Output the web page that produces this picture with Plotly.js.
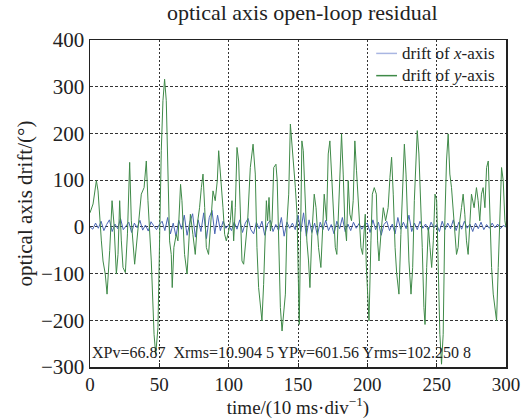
<!DOCTYPE html>
<html>
<head>
<meta charset="utf-8">
<script src="https://cdn.plot.ly/plotly-3.0.1.min.js"></script>
<style>html,body{margin:0;padding:0;background:#fff;}#chart{width:523px;height:419px;}</style>
</head>
<body>
<div id="chart"></div>
<script>
// y-axis drift (green): sample time and value
const tY = [0,1.2,2.2,4.6,5.8,8.2,9.4,11,12.3,14.2,15.9,17.3,19,20.2,21.4,22.6,23.8,25.5,27,28.6,29.8,32.2,33.9,37,39,40.6,41.8,43,44.2,46.2,47.4,49,
50.2,51.4,52.6,53.8,55,56.2,57.4,58.6,59.3,60.5,62.2,63.4,65.3,66.3,67,68.2,70,71.2,72.4,74.2,75.9,77.4,79,80.3,81.5,82.7,83.9,85.5,87,88.7,90.3,91.8,92.8,94.2,95.9,97.1,98.3,
100,101.2,102.4,103.6,104.8,106,107.2,108.4,109.6,110.8,112,113.7,115.6,117.6,119.2,120.4,121.6,122.8,124,125.2,126,127.2,128.1,129.1,130.1,131.3,132.5,134.1,135,136,137.3,138.5,139.7,140.9,142.1,143.3,144.5,145.7,146.9,148.1,149.3,
150,150.9,151.8,152.8,153.8,155.2,156.4,157.6,158.6,160,161.7,163,164.8,166.5,167.7,168.9,170.6,171.8,173,174.2,175.4,176.9,178,179.3,180.5,181.4,182.6,183.8,185,186.2,187.4,188.6,189.8,191,192.2,194.2,195.4,196.6,198.5,199.2,
200.1,201.2,202.6,203.6,205,206.5,207.4,208.4,209.8,211.5,213.2,215,216.3,217.5,218.7,220,221.2,222.8,224.2,225.5,226.7,227.9,229.1,230,231.5,232.7,233.9,234.9,236,237.2,238.4,239.6,240.8,241.6,242.8,244,245.2,246.4,247.6,248.8,
250,251.1,252.3,253.5,254.7,255.9,257.1,258.3,259.5,260.7,261.9,263.1,264.3,265.5,266.7,267.9,269.1,270.3,271.5,272.7,273.9,275.1,277,278.7,279.9,281.1,282.3,283.5,284.8,286,287.2,288.4,289.6,290.8,292,293.2,294.4,295.6,296.8,298,299.2,300];
const vY = [30,40,49,99,77,-30,-73,-101,-144,-51,56,6,-101,-59,56,-30,-87,-98,-15,138,13,-80,-30,70,84,141,56,-15,-73,-230,-273,-216,
-16,163,270,316,270,91,-30,-59,-130,-44,-16,-30,91,56,-1,-59,-101,-30,27,-16,-59,6,41,84,113,41,-44,-59,13,77,56,99,163,113,41,-16,-30,
-9,13,56,-30,41,170,141,13,-73,-80,-44,13,127,177,113,-44,-130,-173,-201,-123,-44,56,13,63,-9,13,127,134,99,-51,-173,-223,-187,-144,13,70,220,177,127,84,27,
-60,-209,-30,184,163,56,-30,-73,-130,-16,70,41,-44,-87,13,70,13,156,184,113,20,-44,-59,56,163,199,113,6,-30,99,27,13,56,184,120,27,-44,-59,27,-80,
-130,-201,-30,70,84,70,-30,-73,-16,41,13,41,106,149,70,-44,-101,-144,-16,70,177,113,13,-73,-144,-87,56,127,206,156,70,-44,-173,-209,-87,-1,-44,-87,-30,70,
56,-87,-230,-294,-230,13,141,199,113,84,41,-16,-59,-44,13,41,70,27,-30,-59,13,70,41,84,56,13,70,84,41,127,141,13,-87,-144,-173,-201,-87,41,127,99,13,-1];

// x-axis drift (blue): one reading every 2 time units from 0 to 300
const tX = Array.from({length:151},(_,i)=>i*2);
const vX = [0,-5,8,-3,12,-8,5,15,-10,6,-4,18,-6,3,10,-12,8,-2,14,-7,4,-9,11,2,-6,
5,12,-8,20,-15,8,-20,14,-5,25,-18,10,28,-22,15,-10,30,-25,20,35,-15,25,-8,12,-3,
4,-8,10,-5,15,-12,8,18,-6,-15,10,-4,12,-18,6,14,-10,5,-8,20,-20,10,-3,8,-6,
25,-10,30,-20,15,-12,8,-18,10,-6,14,-8,5,-15,12,-4,20,-10,6,-8,10,-3,7,-5,4,
8,-12,15,-6,10,-18,5,12,-8,6,-15,20,-5,10,-4,25,-10,8,-6,12,-3,6,-8,10,-2,
5,-10,12,-6,8,-4,15,-8,10,-5,12,-3,6,-10,8,-4,10,-6,5,-3,8,-2,6,-4,3,0];

const xTicks = [0,50,100,150,200,250,300];
const yTicks = [-300,-200,-100,0,100,200,300,400];
const seriesNames = ['drift of <i>x</i>-axis', 'drift of <i>y</i>-axis'];
const titleText = 'optical axis open-loop residual';
const xTitle = 'time/(10 ms·div<sup>−1</sup>)';
const yTitle = 'optical axis drift/(°)';
const statsText = 'XPv=66.87  Xrms=10.904 5 YPv=601.56 Yrms=102.250 8';

const FONT = '"Liberation Serif", "Times New Roman", serif';
const colX = '#4a66b4', colXLegend = '#a9b6e2', colY = '#3f8a48';

const traces = [
  {x:tX, y:vX, type:'scatter', mode:'lines', name:seriesNames[0], line:{color:colX, width:1}},
  {x:tY, y:vY, type:'scatter', mode:'lines', name:seriesNames[1], line:{color:colY, width:1}}
];

// compact legend: key lines + one two-line label block in the top-right corner of the plot area
const legendRows = [0.959, 0.891];
const legendShapes = legendRows.map((yy,i)=>({type:'line', xref:'paper', yref:'paper', x0:0.688, x1:0.738, y0:yy, y1:yy,
  line:{color: i===0 ? colXLegend : colY, width:1.5}}));
const legendLabel = {text:seriesNames.join('<br>'), xref:'paper', yref:'paper', x:0.746, y:(legendRows[0]+legendRows[1])/2,
  xanchor:'left', yanchor:'middle', align:'left', showarrow:false, font:{family:FONT, size:17, color:'#222'}};

const layout = {
  width:523, height:419,
  margin:{l:90, r:17, t:40, b:52},
  paper_bgcolor:'#fff', plot_bgcolor:'#fff',
  font:{family:FONT, color:'#222', size:18},
  title:{text:titleText, font:{family:FONT, size:22, color:'#222'}, x:0.578, xanchor:'center', y:0.99, yanchor:'top'},
  showlegend:false,
  xaxis:{range:[0,300], tickvals:xTicks, ticktext:xTicks.map(String), showline:true, mirror:true, linecolor:'#222', linewidth:1.5,
         showgrid:true, gridcolor:'#333', griddash:'2px,2px', gridwidth:1, zeroline:false,
         ticks:'inside', ticklen:4, tickcolor:'#222', tickfont:{family:FONT, size:19, color:'#222'},
         title:{text:xTitle, font:{family:FONT, size:19, color:'#222'}, standoff:5}},
  yaxis:{range:[-300,400], tickvals:yTicks, ticktext:yTicks.map(v=>v<0?'−'+Math.abs(v):String(v)), showline:true, mirror:true, linecolor:'#222', linewidth:1.5,
         showgrid:true, gridcolor:'#333', griddash:'3px,2px', gridwidth:1, zeroline:false,
         ticks:'', tickfont:{family:FONT, size:21, color:'#222'},
         title:{text:yTitle, font:{family:FONT, size:21, color:'#222'}, standoff:2}},
  shapes: legendShapes,
  annotations:[{text:statsText, xref:'paper', yref:'paper', x:0.0, y:0.012, xanchor:'left', yanchor:'bottom',
                showarrow:false, font:{family:FONT, size:16, color:'#222'}}, legendLabel]
};

Plotly.newPlot('chart', traces, layout, {displayModeBar:false, staticPlot:true});
</script>
</body>
</html>
